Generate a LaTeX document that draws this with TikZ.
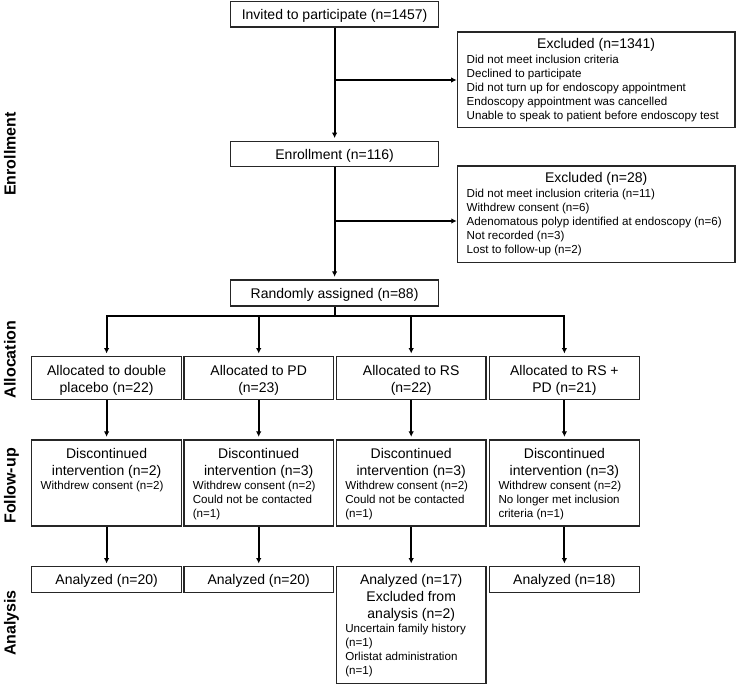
\documentclass[tikz,border=0pt]{standalone}
\usepackage{fontspec}
\setmainfont{Liberation Sans}
\usetikzlibrary{arrows.meta}
\newcommand\bigsz{\fontsize{14bp}{16.7bp}\selectfont}
\newcommand\smallsz{\fontsize{11.6bp}{14bp}\selectfont}
\newcommand\lblsz{\fontsize{16bp}{19bp}\selectfont\bfseries}
\begin{document}
\begin{tikzpicture}[x=1bp,y=-1bp,
  box/.style={draw=black!85, line width=1.3bp, rectangle, inner sep=0pt},
  tip/.tip={Latex[length=5.5bp,width=5.5bp]},
  conn/.style={line width=2bp, -tip},
  vconn/.style={line width=2bp, -tip, shorten >=2.5bp},
  plain/.style={line width=2bp},
  ctext/.style={inner sep=0pt, anchor=base, font=\bigsz},
  ltext/.style={inner sep=0pt, anchor=base west, font=\smallsz},
  side/.style={inner sep=0pt, anchor=base, rotate=90, font=\lblsz}]
\useasboundingbox (0,0) rectangle (737,685);

% boxes
\node[box, minimum width=208bp, minimum height=25.5bp] (inv) at (334.6,14.25) {};
\node[box, minimum width=277.7bp, minimum height=95.5bp] (exc1) at (596.15,79.75) {};
\node[box, minimum width=208bp, minimum height=25.4bp] (enr) at (334.6,154) {};
\node[box, minimum width=277.6bp, minimum height=96.3bp] (exc2) at (596.2,214.15) {};
\node[box, minimum width=208bp, minimum height=26bp] (rnd) at (334.6,293) {};

\foreach \n/\cx in {1/106.6,2/258.7,3/411.2,4/564.4}{
  \node[box, minimum width=149.6bp, minimum height=42.6bp] (a\n) at (\cx,378) {};
  \node[box, minimum width=149.6bp, minimum height=86bp] (f\n) at (\cx,483) {};
}
\node[box, minimum width=149.6bp, minimum height=25.6bp] (z1) at (106.6,579.5) {};
\node[box, minimum width=149.6bp, minimum height=25.6bp] (z2) at (258.7,579.5) {};
\node[box, minimum width=149.6bp, minimum height=116.8bp] (z3) at (411.2,625.1) {};
\node[box, minimum width=149.6bp, minimum height=25.6bp] (z4) at (564.4,579.5) {};

% texts
\node[ctext] (tinv) at (334.6,19.6) {Invited to participate (n=1457)};
\node[ctext] (tenr) at (334.6,159.2) {Enrollment (n=116)};
\node[ctext] (trnd) at (334.6,298.3) {Randomly assigned (n=88)};

\node[ctext] (te1) at (596.15,48.5) {Excluded (n=1341)};
\node[ltext] (te1a) at (466.5,63.3) {Did not meet inclusion criteria};
\node[ltext] (te1b) at (466.5,77.3) {Declined to participate};
\node[ltext] (te1c) at (466.5,91.3) {Did not turn up for endoscopy appointment};
\node[ltext] (te1d) at (466.5,105.3) {Endoscopy appointment was cancelled};
\node[ltext] (te1e) at (466.5,119.3) {Unable to speak to patient before endoscopy test};

\node[ctext] (te2) at (596.2,182.7) {Excluded (n=28)};
\node[ltext] (te2a) at (466.5,197.5) {Did not meet inclusion criteria (n=11)};
\node[ltext] (te2b) at (466.5,211.5) {Withdrew consent (n=6)};
\node[ltext] (te2c) at (466.5,225.5) {Adenomatous polyp identified at endoscopy (n=6)};
\node[ltext] (te2d) at (466.5,239.5) {Not recorded (n=3)};
\node[ltext] (te2e) at (466.5,253.5) {Lost to follow-up (n=2)};

\node[ctext] (ta1a) at (106.6,375) {Allocated to double};
\node[ctext] (ta1b) at (106.6,392) {placebo (n=22)};
\node[ctext] (ta2a) at (258.7,375) {Allocated to PD};
\node[ctext] (ta2b) at (258.7,392) {(n=23)};
\node[ctext] (ta3a) at (411.2,375) {Allocated to RS};
\node[ctext] (ta3b) at (411.2,392) {(n=22)};
\node[ctext] (ta4a) at (564.4,375) {Allocated to RS +};
\node[ctext] (ta4b) at (564.4,392) {PD (n=21)};

\foreach \n/\cx/\k in {1/106.6/2,2/258.7/3,3/411.2/3,4/564.4/3}{
  \node[ctext] (tf\n a) at (\cx,458.3) {Discontinued};
  \node[ctext] (tf\n b) at (\cx,475) {intervention (n=\k)};
  \node[ltext] (tf\n c) at (\cx-66.1,489.3) {Withdrew consent (n=2)};
}
\node[ltext] (tf2d) at (192.6,503.3) {Could not be contacted};
\node[ltext] (tf2e) at (192.6,517.3) {(n=1)};
\node[ltext] (tf3d) at (345.1,503.3) {Could not be contacted};
\node[ltext] (tf3e) at (345.1,517.3) {(n=1)};
\node[ltext] (tf4d) at (498.3,503.3) {No longer met inclusion};
\node[ltext] (tf4e) at (498.3,517.3) {criteria (n=1)};

\node[ctext] (tz1) at (106.6,584.7) {Analyzed (n=20)};
\node[ctext] (tz2) at (258.7,584.7) {Analyzed (n=20)};
\node[ctext] (tz3) at (411.2,584.7) {Analyzed (n=17)};
\node[ctext] (tz4) at (564.4,584.7) {Analyzed (n=18)};
\node[ctext] (tz3b) at (411.2,601.4) {Excluded from};
\node[ctext] (tz3c) at (411.2,618.2) {analysis (n=2)};
\node[ltext] (tz3d) at (345.1,632.6) {Uncertain family history};
\node[ltext] (tz3e) at (345.1,646.6) {(n=1)};
\node[ltext] (tz3f) at (345.1,660.6) {Orlistat administration};
\node[ltext] (tz3g) at (345.1,674.6) {(n=1)};

% side labels
\node[side] (s1) at (15.5,154) {Enrollment};
\node[side] (s2) at (15.5,359.5) {Allocation};
\node[side] (s3) at (15.5,486) {Follow-up};
\node[side] (s4) at (15.5,623) {Analysis};

% connectors
\draw[vconn] (inv.south) -- (enr.north);
\coordinate (j1) at (334.6,80);
\draw[conn] (j1) -- (j1 -| exc1.west);
\draw[vconn] (enr.south) -- (rnd.north);
\coordinate (j2) at (334.6,221);
\draw[conn] (j2) -- (j2 -| exc2.west);
\coordinate (br) at (334.6,316);
\draw[plain] (rnd.south) -- (br);
\draw[plain, tip-tip, line join=miter, shorten <=2.5bp, shorten >=2.5bp]
  (a1.north) -- (a1.north |- br) -- (a4.north |- br) -- (a4.north);
\draw[vconn] (a2.north |- br) -- (a2.north);
\draw[vconn] (a3.north |- br) -- (a3.north);
\foreach \n in {1,2,3,4}{
  \draw[vconn] (a\n.south) -- (f\n.north);
  \draw[vconn] (f\n.south) -- (z\n.north);
}
\end{tikzpicture}
\end{document}
